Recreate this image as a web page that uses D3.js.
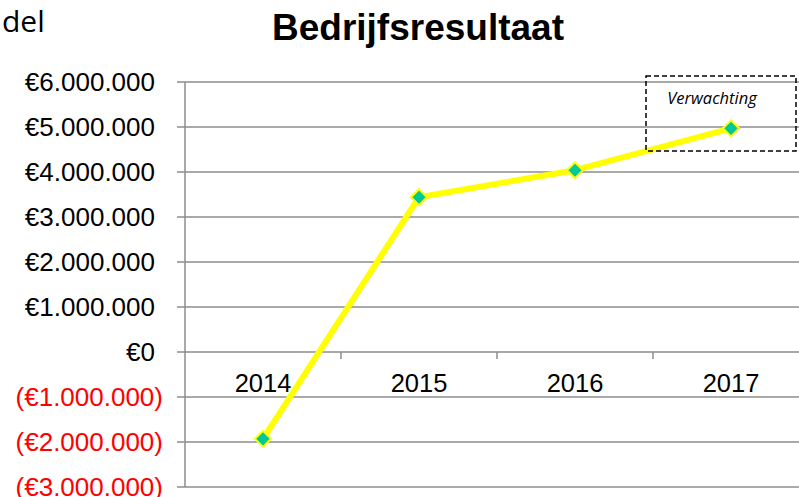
<!DOCTYPE html>
<html>
<head>
<meta charset="utf-8">
<script src="https://cdn.jsdelivr.net/npm/d3@7"></script>
<style>
  body { margin: 0; background: #fff; }
  svg { display: block; }
</style>
</head>
<body>
<div id="chart"></div>
<script>
// data
var years = ["2014", "2015", "2016", "2017"];
var result = [-1930000, 3440000, 4040000, 4970000];
var yTicks = [-3000000, -2000000, -1000000, 0, 1000000, 2000000, 3000000, 4000000, 5000000, 6000000];

var w = 799, h = 497;
var plotLeft = 185, plotRight = 809, plotTop = 82, plotBottom = 487;

var svg = d3.select("#chart").append("svg")
    .attr("width", w)
    .attr("height", h);

var x = d3.scaleBand().domain(years).range([plotLeft, plotRight]);
var y = d3.scaleLinear().domain([-3000000, 6000000]).range([plotBottom, plotTop]);

function euro(v) {
    var s = "€" + d3.format(",")(Math.abs(v)).replace(/,/g, ".");
    return v < 0 ? "(" + s + ")" : s;
}

// gridlines
svg.selectAll("line.grid")
    .data(yTicks)
    .enter()
    .append("line")
    .attr("class", "grid")
    .attr("x1", plotLeft - 8)
    .attr("x2", w)
    .attr("y1", function(d) { return y(d); })
    .attr("y2", function(d) { return y(d); })
    .attr("stroke", "#8c8c8c")
    .attr("stroke-width", 1.5);

// vertical axis line
svg.append("line")
    .attr("x1", plotLeft).attr("x2", plotLeft)
    .attr("y1", y(6000000)).attr("y2", y(-3000000))
    .attr("stroke", "#8c8c8c")
    .attr("stroke-width", 1.5);

// category ticks on zero line
svg.selectAll("line.xtick")
    .data(years.slice(1))
    .enter()
    .append("line")
    .attr("class", "xtick")
    .attr("x1", function(d) { return x(d); })
    .attr("x2", function(d) { return x(d); })
    .attr("y1", y(0))
    .attr("y2", y(0) + 7)
    .attr("stroke", "#8c8c8c")
    .attr("stroke-width", 1.5);

// y labels
svg.selectAll("text.ylab")
    .data(yTicks)
    .enter()
    .append("text")
    .attr("class", "ylab")
    .text(function(d) { return euro(d); })
    .attr("text-anchor", "end")
    .attr("x", function(d) { return d < 0 ? 163 : 155; })
    .attr("y", function(d) { return y(d); })
    .attr("dy", "0.36em")
    .attr("font-family", "Liberation Sans, Arial, sans-serif")
    .attr("font-size", "26px")
    .attr("fill", function(d) { return d < 0 ? "#ff0000" : "#000"; });

// x labels
svg.selectAll("text.xlab")
    .data(years)
    .enter()
    .append("text")
    .attr("class", "xlab")
    .text(function(d) { return d; })
    .attr("text-anchor", "middle")
    .attr("x", function(d) { return x(d) + x.bandwidth() / 2; })
    .attr("y", y(0) + 40)
    .attr("font-family", "Liberation Sans, Arial, sans-serif")
    .attr("font-size", "25.5px")
    .attr("fill", "#000");

// line
var line = d3.line()
    .x(function(d, i) { return x(years[i]) + x.bandwidth() / 2; })
    .y(function(d) { return y(d); });

svg.append("path")
    .datum(result)
    .attr("d", line)
    .attr("fill", "none")
    .attr("stroke", "#ffff00")
    .attr("stroke-width", 6)
    .attr("stroke-linejoin", "round");

// markers
svg.selectAll("path.marker")
    .data(result)
    .enter()
    .append("path")
    .attr("class", "marker")
    .attr("d", "M0,-8L8,0L0,8L-8,0Z")
    .attr("transform", function(d, i) {
        return "translate(" + (x(years[i]) + x.bandwidth() / 2) + "," + y(d) + ")";
    })
    .attr("fill", "#00c896")
    .attr("stroke", "#ffff00")
    .attr("stroke-width", 2);

// expectation box
svg.append("rect")
    .attr("x", 646)
    .attr("y", 76)
    .attr("width", 150)
    .attr("height", 75)
    .attr("fill", "none")
    .attr("stroke", "#000")
    .attr("stroke-width", 1.5)
    .attr("stroke-dasharray", "5,3");

svg.append("text")
    .text("Verwachting")
    .attr("x", 712)
    .attr("y", 104)
    .attr("text-anchor", "middle")
    .attr("font-family", "Open Sans, sans-serif")
    .attr("font-style", "italic")
    .attr("font-size", "16.5px")
    .attr("fill", "#000");

// title
svg.append("text")
    .text("Bedrijfsresultaat")
    .attr("x", 418)
    .attr("y", 40)
    .attr("text-anchor", "middle")
    .attr("font-family", "Liberation Sans, Arial, sans-serif")
    .attr("font-weight", "bold")
    .attr("font-size", "37px")
    .attr("fill", "#000");

svg.append("text")
    .text("del")
    .attr("x", 2)
    .attr("y", 32)
    .attr("font-family", "Open Sans, sans-serif")
    .attr("font-size", "30px")
    .attr("fill", "#000");
</script>
</body>
</html>
